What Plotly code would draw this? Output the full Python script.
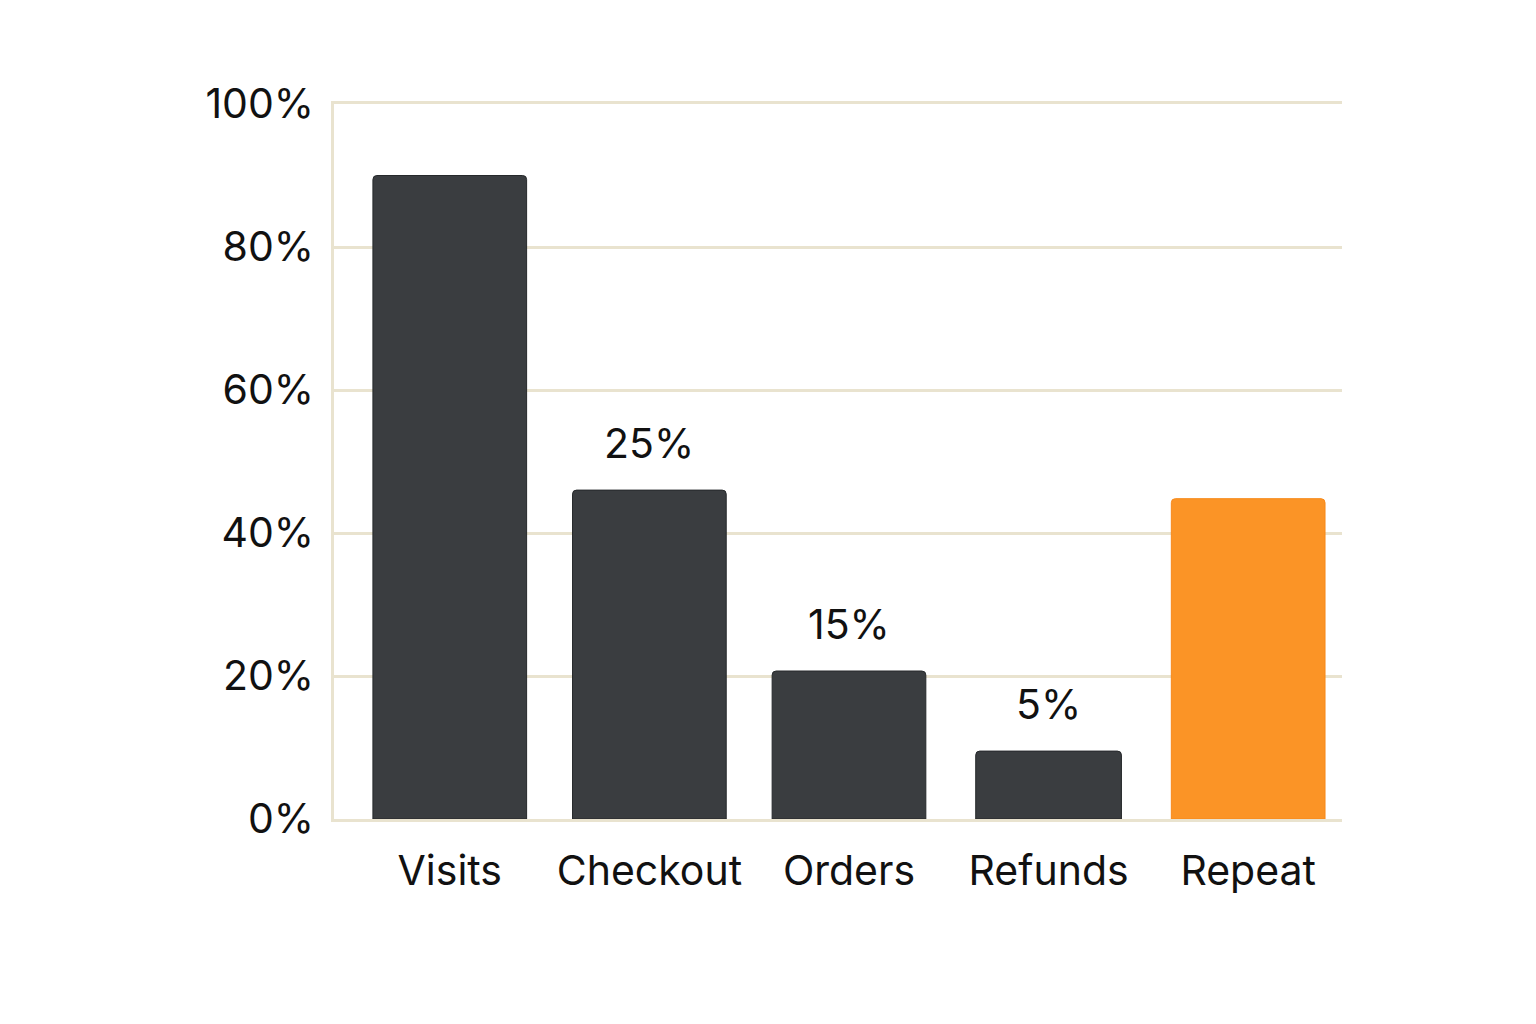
import plotly.graph_objects as go

categories = ["Visits", "Checkout", "Orders", "Refunds", "Repeat"]
values = [90, 46, 20.7, 9.5, 44.8]
bar_labels = ["", "25%", "15%", "5%", ""]
y_ticks = [0, 20, 40, 60, 80, 100]
y_tick_labels = ["0%", "20%", "40%", "60%", "80%", "100%"]

DARK = "#3a3d40"
ORANGE = "#fb9426"
colors = [DARK, DARK, DARK, DARK, ORANGE]
line_colors = ["#26292b", "#26292b", "#26292b", "#26292b", "#f7891a"]
widths = [0.77, 0.77, 0.77, 0.73, 0.77]
GRID = "#e9e3cf"
FONT = "Inter, Liberation Sans, Arial, sans-serif"

fig = go.Figure()
fig.add_trace(go.Bar(
    x=categories, y=values, width=widths,
    marker=dict(color=colors, line=dict(color=line_colors, width=1)),
    hoverinfo="skip",
))

for c, v, lab in zip(categories, values, bar_labels):
    if lab:
        fig.add_annotation(x=c, y=v, text=lab, showarrow=False,
                           yanchor="bottom", yshift=20,
                           font=dict(size=41, color="#111111", family=FONT))

fig.update_layout(
    width=1536, height=1024,
    margin=dict(l=334, r=194, t=104, b=205),
    paper_bgcolor="white", plot_bgcolor="white",
    showlegend=False, barcornerradius=4,
    font=dict(family=FONT, color="#111111", size=41),
)
fig.update_yaxes(
    range=[0, 100], tickmode="array", tickvals=y_ticks, ticktext=y_tick_labels,
    showgrid=True, gridcolor=GRID, gridwidth=2.5,
    showline=True, linecolor=GRID, linewidth=2.5,
    zeroline=False, ticklabelstandoff=9,
    tickfont=dict(size=41, color="#111111", family=FONT),
)
fig.update_xaxes(
    range=[-0.58, 4.47],
    showline=True, linecolor=GRID, linewidth=2.5, mirror=True,
    showgrid=False, ticklabelstandoff=14,
    tickfont=dict(size=41, color="#111111", family=FONT),
)

fig.write_html("out.html")
